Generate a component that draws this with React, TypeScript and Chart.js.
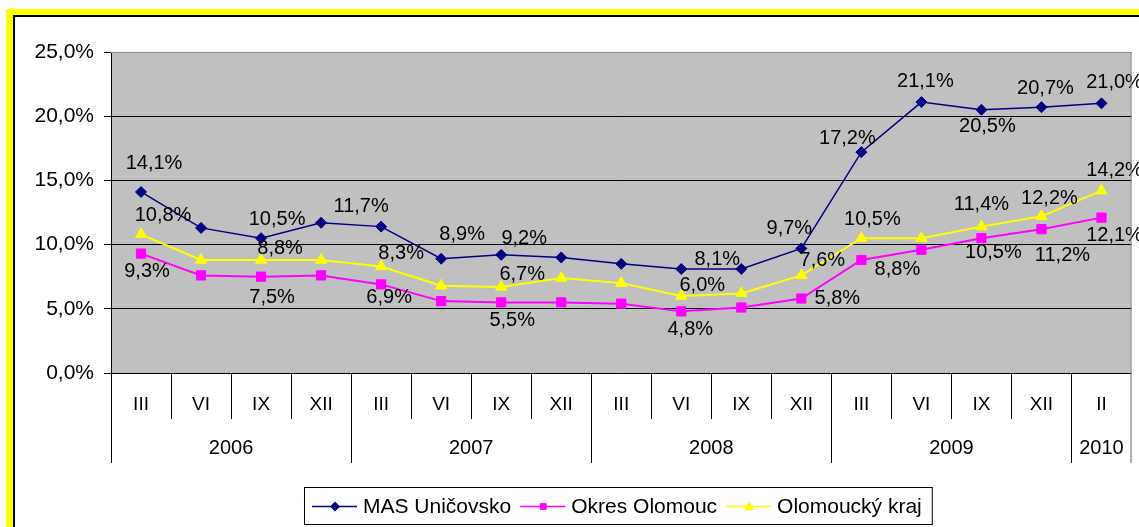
import React, { useEffect, useRef } from 'react';
import { Chart, registerables } from 'chart.js';

Chart.register(...registerables);

// ---------- data ----------
const quarters = ['III', 'VI', 'IX', 'XII', 'III', 'VI', 'IX', 'XII', 'III', 'VI', 'IX', 'XII', 'III', 'VI', 'IX', 'XII', 'II'];
const years = ['2006', '2006', '2006', '2006', '2007', '2007', '2007', '2007', '2008', '2008', '2008', '2008', '2009', '2009', '2009', '2009', '2010'];

const masUnicovsko = [14.1, 11.3, 10.5, 11.7, 11.4, 8.9, 9.2, 9.0, 8.5, 8.1, 8.1, 9.7, 17.2, 21.1, 20.5, 20.7, 21.0];
const okresOlomouc = [9.3, 7.6, 7.5, 7.6, 6.9, 5.6, 5.5, 5.5, 5.4, 4.8, 5.1, 5.8, 8.8, 9.6, 10.5, 11.2, 12.1];
const olomouckyKraj = [10.8, 8.8, 8.8, 8.8, 8.3, 6.8, 6.7, 7.4, 7.0, 6.0, 6.2, 7.6, 10.5, 10.5, 11.4, 12.2, 14.2];

const seriesNames = ['MAS Uničovsko', 'Okres Olomouc', 'Olomoucký kraj'];
const yTicks = [0, 5, 10, 15, 20, 25];

// which points carry a value label, and where the label sits relative to its point (px)
const masLabelPlacement: [number, number, number][] = [
  [0, 13, -28], [2, 16, -19], [3, 40, -16], [5, 21, -24], [6, 23, -16], [9, 36, -10],
  [11, -12, -20], [12, -14, -14], [13, 4, -21], [14, 6, 17], [15, 4, -19], [16, 13, -21],
];
const okresLabelPlacement: [number, number, number][] = [
  [0, 6, 18], [2, 11, 21], [4, 8, 13], [6, 11, 18], [9, 9, 18], [11, 36, 0],
  [12, 36, 9], [14, 12, 14], [15, 21, 26], [16, 13, 18],
];
const krajLabelPlacement: [number, number, number][] = [
  [0, 22, -19], [2, 19, -12], [4, 20, -13], [6, 21, -12], [9, 21, -10], [11, 21, -15],
  [12, 11, -19], [14, 0, -22], [15, 8, -18], [16, 13, -20],
];

const FONT = '"Liberation Sans", Arial, sans-serif';
const COLORS = ['#000080', '#ff00ff', '#ffff00'];
const fmt = (v: number) => v.toFixed(1).replace('.', ',') + '%';

function drawMarker(ctx: CanvasRenderingContext2D, kind: number, x: number, y: number, s: number) {
  ctx.beginPath();
  if (kind === 0) {
    ctx.moveTo(x, y - s);
    ctx.lineTo(x + s, y);
    ctx.lineTo(x, y + s);
    ctx.lineTo(x - s, y);
  } else if (kind === 1) {
    ctx.rect(x - s * 0.75, y - s * 0.75, s * 1.5, s * 1.5);
  } else {
    ctx.moveTo(x, y - s);
    ctx.lineTo(x + s, y + s * 0.75);
    ctx.lineTo(x - s, y + s * 0.75);
  }
  ctx.closePath();
  ctx.fill();
}

const decorPlugin = {
  id: 'decor',
  beforeDraw(chart: any) {
    const { ctx, chartArea: a, width, height } = chart;
    ctx.save();
    ctx.fillStyle = '#ffffff';
    ctx.fillRect(0, 0, width, height);
    ctx.fillStyle = '#ffff00';
    ctx.fillRect(6, 9, width, height);
    ctx.fillStyle = '#000000';
    ctx.fillRect(13, 15, width, height);
    ctx.fillStyle = '#ffffff';
    ctx.fillRect(15, 17, width, height);
    ctx.fillStyle = '#c0c0c0';
    ctx.fillRect(a.left, a.top, a.right - a.left, a.bottom - a.top);
    ctx.restore();
  },
  afterDatasetsDraw(chart: any) {
    const { ctx } = chart;
    const placements = [masLabelPlacement, okresLabelPlacement, krajLabelPlacement];
    ctx.save();
    ctx.font = `20px ${FONT}`;
    ctx.fillStyle = '#000';
    ctx.textAlign = 'center';
    ctx.textBaseline = 'middle';
    placements.forEach((pl, di) => {
      const meta = chart.getDatasetMeta(di);
      const data = chart.data.datasets[di].data as number[];
      pl.forEach(([i, dx, dy]) => {
        const pt = meta.data[i];
        if (!pt) return;
        ctx.fillText(fmt(data[i]), pt.x + dx, pt.y + dy);
      });
    });
    ctx.restore();
  },
  afterDraw(chart: any) {
    const { ctx, chartArea: a } = chart;
    const xs = chart.scales.x;
    const n = quarters.length;
    ctx.save();

    // plot border (top & right)
    ctx.strokeStyle = '#909090';
    ctx.lineWidth = 1;
    ctx.beginPath();
    ctx.moveTo(a.left, a.top + 0.5);
    ctx.lineTo(a.right - 0.5, a.top + 0.5);
    ctx.lineTo(a.right - 0.5, a.bottom);
    ctx.stroke();

    // category separators
    const y0 = a.bottom;
    const qBottom = 419;
    const yBottom = 463;
    ctx.strokeStyle = '#000';
    for (let i = 0; i <= n; i++) {
      let bx = Math.round(xs.getPixelForValue(i - 0.5)) + 0.5;
      if (i === n) bx = a.right - 0.5;
      const isYear = i === 0 || i === n || years[i] !== years[i - 1];
      ctx.beginPath();
      ctx.moveTo(bx, y0);
      ctx.lineTo(bx, isYear ? yBottom : qBottom);
      ctx.strokeStyle = i === n ? '#606060' : '#000';
      ctx.stroke();
    }

    // quarter labels
    ctx.fillStyle = '#000';
    ctx.textAlign = 'center';
    ctx.textBaseline = 'middle';
    ctx.font = `19px ${FONT}`;
    for (let i = 0; i < n; i++) {
      ctx.fillText(quarters[i], xs.getPixelForValue(i), 405);
    }
    // year labels
    ctx.font = `20px ${FONT}`;
    let start = 0;
    for (let i = 1; i <= n; i++) {
      if (i === n || years[i] !== years[start]) {
        const cx = (xs.getPixelForValue(start - 0.5) + xs.getPixelForValue(i - 0.5)) / 2;
        ctx.fillText(years[start], cx, 448);
        start = i;
      }
    }

    // legend
    const ly = 506.5;
    ctx.font = `21px ${FONT}`;
    let x = 312;
    const items: { lx: number }[] = [];
    seriesNames.forEach((name, k) => {
      items.push({ lx: x });
      x += 51 + ctx.measureText(name).width + 9;
    });
    const boxRight = x + 1;
    ctx.fillStyle = '#fff';
    ctx.fillRect(304, 487, boxRight - 304, 37);
    ctx.strokeStyle = '#000';
    ctx.lineWidth = 1;
    ctx.strokeRect(304.5, 487.5, boxRight - 304, 37);
    seriesNames.forEach((name, k) => {
      const lx = items[k].lx;
      ctx.strokeStyle = COLORS[k];
      ctx.lineWidth = 1.5;
      ctx.beginPath();
      ctx.moveTo(lx, ly);
      ctx.lineTo(lx + 45, ly);
      ctx.stroke();
      ctx.fillStyle = COLORS[k];
      drawMarker(ctx, k, lx + 23, ly, k === 0 ? 5 : k === 1 ? 4.5 : 5);
      ctx.fillStyle = '#000';
      ctx.textAlign = 'left';
      ctx.fillText(name, lx + 51, ly + 1);
    });

    ctx.restore();
  },
};

export default function App() {
  const canvasRef = useRef<HTMLCanvasElement | null>(null);

  useEffect(() => {
    if (!canvasRef.current) return;
    const chart = new Chart(canvasRef.current, {
      type: 'line',
      data: {
        labels: quarters,
        datasets: [
          {
            label: seriesNames[0],
            data: masUnicovsko,
            borderColor: COLORS[0],
            backgroundColor: COLORS[0],
            borderWidth: 1.5,
            pointStyle: 'rectRot',
            pointRadius: 5.5,
            pointBorderWidth: 1,
            tension: 0,
          },
          {
            label: seriesNames[1],
            data: okresOlomouc,
            borderColor: COLORS[1],
            backgroundColor: COLORS[1],
            borderWidth: 2,
            pointStyle: 'rect',
            pointRadius: 6.5,
            pointBorderWidth: 1,
            tension: 0,
          },
          {
            label: seriesNames[2],
            data: olomouckyKraj,
            borderColor: COLORS[2],
            backgroundColor: COLORS[2],
            borderWidth: 2,
            pointStyle: 'triangle',
            pointRadius: 6.5,
            pointBorderWidth: 1,
            tension: 0,
          },
        ],
      },
      options: {
        responsive: false,
        animation: false,
        devicePixelRatio: 1,
        layout: { padding: { top: 52, left: 0, right: 5, bottom: 0 } },
        plugins: {
          legend: { display: false },
          tooltip: { enabled: false },
          title: { display: false },
        },
        scales: {
          x: {
            type: 'category',
            offset: true,
            grid: { display: false },
            border: { display: false },
            ticks: { display: false },
            afterFit: (s: any) => {
              s.height = 154;
            },
          },
          y: {
            min: 0,
            max: 25,
            afterBuildTicks: (s: any) => {
              s.ticks = yTicks.map((v) => ({ value: v }));
            },
            ticks: {
              callback: (v: any) => fmt(Number(v)),
              font: { family: FONT, size: 21 },
              color: '#000',
              padding: 10,
            },
            grid: { color: '#000', lineWidth: 1, tickLength: 7 },
            border: { color: '#000', width: 1 },
            afterFit: (s: any) => {
              s.width = 111;
            },
          },
        },
      },
      plugins: [decorPlugin],
    });
    return () => chart.destroy();
  }, []);

  return (
    <div style={{ position: 'fixed', left: 0, top: 0, width: 1139, height: 527, background: '#fff' }}>
      <canvas ref={canvasRef} width={1139} height={527} style={{ width: 1139, height: 527, display: 'block' }} />
    </div>
  );
}
